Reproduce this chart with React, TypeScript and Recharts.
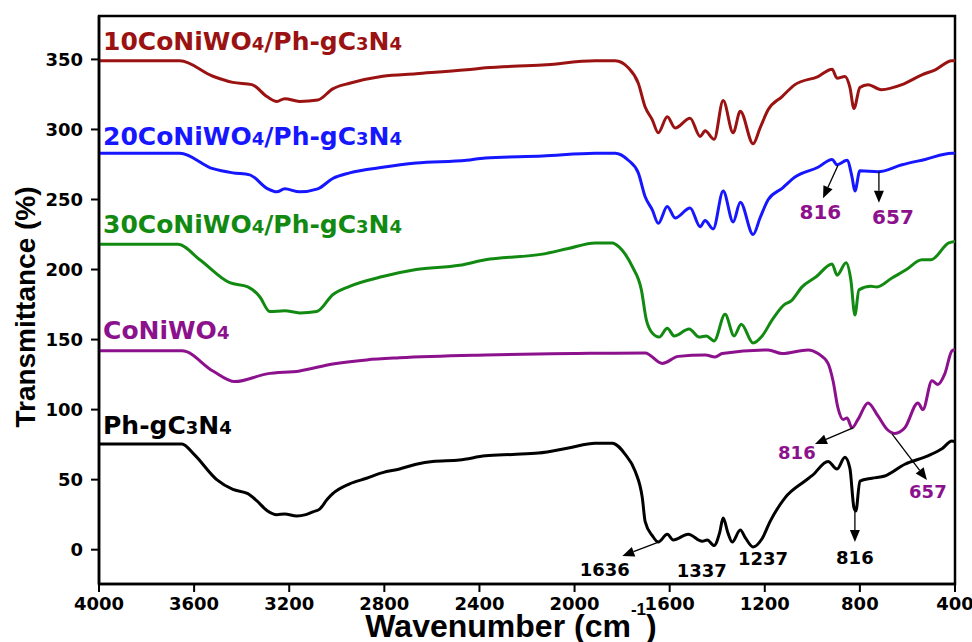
import { LineChart, Line, XAxis, YAxis, ReferenceArea, ReferenceLine, ReferenceDot, Label } from "recharts"

// wavenumber (cm-1) and transmittance (%), each curve is offset
const phWn = [4000, 3800, 3651, 3600, 3505, 3437, 3374, 3337, 3294, 3252, 3219, 3169, 3130, 3100, 3072, 3040, 3017, 2946, 2875, 2807, 2736, 2666, 2597, 2484, 2375, 2260, 2152, 2026, 1913, 1841, 1787, 1745, 1715, 1703, 1673, 1648, 1610, 1585, 1522, 1463, 1442, 1413, 1390, 1375, 1355, 1337, 1303, 1280, 1249, 1211, 1178, 1115, 1031, 1000, 934, 896, 863, 842, 825, 817, 800, 749, 695, 611, 514, 455, 413, 400]
const phT = [75.5, 75.5, 75.5, 68, 50, 43, 40, 35, 28, 25, 25.5, 24, 25, 27, 29, 36, 40, 47, 51, 55, 57.6, 61, 63, 64, 67, 68, 69, 72.6, 76, 76, 68, 56, 37, 20, 10, 5.5, 11, 7, 11, 6, 7, 3, 12, 22.6, 12, 5.5, 14, 8, 2, 8, 20, 37, 49, 53, 63, 57.6, 66, 58, 30, 27.6, 49, 51, 52.6, 61, 67, 72, 77.6, 77]

const cnWn = [4000, 3800, 3651, 3521, 3429, 3294, 3156, 3017, 2875, 2736, 2375, 2000, 1703, 1631, 1564, 1450, 1409, 1379, 1186, 1127, 1018, 976, 934, 913, 892, 871, 854, 833, 808, 766, 724, 686, 653, 611, 556, 535, 497, 472, 443, 413, 400]
const cnT = [142, 142, 142, 127.6, 120, 125.5, 127.6, 132.6, 135.5, 137, 139, 140, 140.5, 133, 138, 139, 137.6, 140, 142.6, 140, 142.6, 140, 133, 120.6, 101, 93, 94, 87, 93, 104.8, 95.5, 86, 83, 87, 104.8, 100, 120.6, 118, 125.5, 142, 143]

const c30Wn = [4000, 3800, 3668, 3576, 3450, 3374, 3324, 3282, 3219, 3156, 3084, 3017, 2946, 2807, 2666, 2484, 2375, 2135, 2026, 1913, 1841, 1812, 1787, 1757, 1719, 1698, 1677, 1644, 1610, 1581, 1518, 1476, 1446, 1413, 1367, 1329, 1299, 1249, 1211, 1169, 1119, 1089, 1043, 984, 917, 896, 858, 838, 821, 804, 754, 729, 665, 606, 539, 501, 426, 400]
const c30T = [218, 218, 218, 207, 190.6, 187.7, 180.6, 170, 170.6, 169, 170, 182, 188, 195, 200, 203, 207, 211, 215, 219, 219, 216, 211, 202, 185.5, 164, 155.5, 151.8, 158, 152.6, 157.6, 151.8, 152.6, 149, 168, 152.6, 161, 147.6, 152.6, 164, 174.8, 177.6, 187.6, 194.8, 204, 196, 204.8, 192.6, 167.6, 185.5, 188, 187.6, 194, 199.8, 207, 207, 219, 220]

const c20Wn = [4000, 3800, 3660, 3521, 3437, 3366, 3294, 3252, 3219, 3156, 3080, 3017, 2946, 2807, 2666, 2454, 2375, 2135, 1913, 1829, 1774, 1732, 1703, 1673, 1648, 1610, 1577, 1514, 1472, 1451, 1417, 1375, 1333, 1303, 1249, 1220, 1186, 1127, 1073, 976, 917, 896, 854, 833, 821, 800, 724, 623, 526, 413, 400]
const c20T = [283, 283, 283, 272, 269, 267.6, 258, 255.5, 257.6, 255.5, 257.6, 265, 269, 273, 276, 278, 279.7, 281, 283, 283, 278, 269, 252, 242.6, 233, 245, 236.8, 244, 230.6, 235, 229, 256, 234, 248, 225, 236.8, 249.8, 258, 266, 273, 278.6, 274.8, 278, 266, 256, 270.5, 269.8, 274.8, 278.6, 283, 283]

const c10Wn = [4000, 3800, 3660, 3521, 3437, 3357, 3294, 3252, 3219, 3156, 3080, 3017, 2946, 2807, 2666, 2454, 2375, 2135, 1913, 1829, 1774, 1732, 1703, 1673, 1648, 1610, 1577, 1514, 1472, 1451, 1413, 1375, 1333, 1303, 1249, 1220, 1186, 1127, 1073, 976, 917, 896, 863, 842, 825, 800, 766, 710, 623, 539, 483, 413, 400]
const c10T = [349, 349, 349, 338, 333.6, 332, 323.5, 320, 322, 320, 321, 329, 333, 338, 339.8, 342.6, 344, 346, 349, 349, 344, 333, 316, 306.9, 297.6, 309, 301, 308, 295, 299, 293, 320.6, 297.6, 313, 289.8, 301, 314, 323.5, 332, 337.8, 343, 336.6, 337.8, 330, 315, 330, 332, 328.4, 332, 339, 342.6, 349, 349]

const xTicks = [4000, 3600, 3200, 2800, 2400, 2000, 1600, 1200, 800, 400]
const yTicks = [0, 50, 100, 150, 200, 250, 300, 350]

const RED = "#9a1212"
const BLUE = "#1616ff"
const GREEN = "#128a12"
const PURPLE = "#8c118c"
const FONT = "'DejaVu Sans', sans-serif"
const ARIAL = "'Liberation Sans', Arial, sans-serif"

const toRows = (wn: number[], t: number[]) => wn.map((w, i) => ({ wn: w, t: t[i] }))

const series = [
  { key: "ph", data: toRows(phWn, phT), color: "#000" },
  { key: "cn", data: toRows(cnWn, cnT), color: PURPLE },
  { key: "c30", data: toRows(c30Wn, c30T), color: GREEN },
  { key: "c20", data: toRows(c20Wn, c20T), color: BLUE },
  { key: "c10", data: toRows(c10Wn, c10T), color: RED },
]

// curve names: odd parts are the small digits
const names = [
  { parts: ["10CoNiWO", "4", "/Ph-gC", "3", "N", "4"], wn: 3983, t: 357, color: RED },
  { parts: ["20CoNiWO", "4", "/Ph-gC", "3", "N", "4"], wn: 3983, t: 289, color: BLUE },
  { parts: ["30CoNiWO", "4", "/Ph-gC", "3", "N", "4"], wn: 3983, t: 226, color: GREEN },
  { parts: ["CoNiWO", "4"], wn: 3983, t: 150.5, color: PURPLE },
  { parts: ["Ph-gC", "3", "N", "4"], wn: 3983, t: 82.6, color: "#000" },
]

const peakLabels = [
  { text: "816", wn: 966, t: 241, color: PURPLE, size: 20 },
  { text: "657", wn: 661, t: 237.6, color: PURPLE, size: 20 },
  { text: "816", wn: 1065, t: 69.3, color: PURPLE, size: 18 },
  { text: "657", wn: 514, t: 41.4, color: PURPLE, size: 18 },
  { text: "1636", wn: 1873, t: -13.8, color: "#000", size: 18 },
  { text: "1337", wn: 1465, t: -15.2, color: "#000", size: 18 },
  { text: "1237", wn: 1207, t: -6.2, color: "#000", size: 18 },
  { text: "816", wn: 821, t: -5.4, color: "#000", size: 18 },
]

const arrows = [
  { from: [892, 274.5], to: [955, 250.9] },
  { from: [720, 269.8], to: [720, 247.6] },
  { from: [829, 86.9], to: [989, 75.5] },
  { from: [665, 82.6], to: [518, 49.8] },
  { from: [1644, 5.5], to: [1799, -4.5] },
  { from: [821, 27.6], to: [821, 5.5] },
]

const Arrow = (p: any) => {
  const { x1, y1, x2, y2 } = p
  const dx = x2 - x1
  const dy = y2 - y1
  const len = Math.hypot(dx, dy) || 1
  const ux = dx / len
  const uy = dy / len
  const hl = 12
  const hw = 5
  const bx = x2 - ux * hl
  const by = y2 - uy * hl
  const pts = `${x2},${y2} ${bx - uy * hw},${by + ux * hw} ${bx + uy * hw},${by - ux * hw}`
  return (
    <g>
      <line x1={x1} y1={y1} x2={bx} y2={by} stroke="#000" strokeWidth={1.3} />
      <polygon points={pts} fill="#000" />
    </g>
  )
}

const nameShape = (parts: string[], color: string) => (p: any) => (
  <text x={p.cx} y={p.cy} fill={color} fontFamily={FONT} fontWeight="bold" fontSize={25}>
    {parts.map((s, i) => (
      <tspan key={i} fontSize={i % 2 ? 18 : 25}>{s}</tspan>
    ))}
  </text>
)

const peakShape = (text: string, color: string, size: number) => (p: any) => (
  <text x={p.cx} y={p.cy} fill={color} fontFamily={FONT} fontWeight="bold" fontSize={size} textAnchor="middle" dominantBaseline="central">
    {text}
  </text>
)

const XTitle = (p: any) => {
  const vb = p.viewBox
  return (
    <text x={vb.x + 412} y={vb.y + 53} textAnchor="middle" fontFamily={ARIAL} fontWeight="bold" fontSize={32} fill="#000">
      Wavenumber (cm<tspan dy={-22} fontSize={17}>-1</tspan><tspan dy={22}>)</tspan>
    </text>
  )
}

const YTitle = (p: any) => {
  const vb = p.viewBox
  const cx = vb.x + 25
  const cy = 307
  return (
    <text x={cx} y={cy} transform={`rotate(-90 ${cx} ${cy})`} textAnchor="middle" dominantBaseline="central"
      fontFamily={ARIAL} fontWeight="bold" fontSize={28} fill="#000">
      Transmittance (%)
    </text>
  )
}

const tickStyle = { fontFamily: FONT, fontWeight: "bold", fontSize: 18, fill: "#000" }

export default function App() {
  return (
    <div style={{ position: "absolute", left: 0, top: 0, background: "#fff" }}>
      <LineChart width={972} height={642} margin={{ top: 16, right: 17, bottom: 0, left: 0 }}>
        <XAxis
          dataKey="wn"
          type="number"
          domain={[400, 4000]}
          reversed
          ticks={xTicks}
          interval={0}
          allowDataOverflow
          height={58}
          tick={tickStyle}
          tickSize={8}
          tickMargin={5}
          axisLine={{ stroke: "#000", strokeWidth: 2.5 }}
          tickLine={{ stroke: "#000", strokeWidth: 2 }}
        >
          <Label content={XTitle} />
        </XAxis>
        <YAxis
          dataKey="t"
          type="number"
          domain={[-24.5, 381]}
          ticks={yTicks}
          interval={0}
          allowDataOverflow
          width={99}
          tick={tickStyle}
          tickSize={8}
          tickMargin={8}
          axisLine={{ stroke: "#000", strokeWidth: 2.5 }}
          tickLine={{ stroke: "#000", strokeWidth: 2 }}
        >
          <Label content={YTitle} />
        </YAxis>
        <ReferenceArea x1={4000} x2={400} y1={-24.5} y2={381} fill="none" stroke="#000" strokeWidth={2.5} ifOverflow="visible" />
        {series.map((s) => (
          <Line
            key={s.key}
            data={s.data}
            dataKey="t"
            type="monotone"
            stroke={s.color}
            strokeWidth={3}
            dot={false}
            activeDot={false}
            isAnimationActive={false}
          />
        ))}
        {arrows.map((a, i) => (
          <ReferenceLine
            key={"a" + i}
            segment={[{ x: a.from[0], y: a.from[1] }, { x: a.to[0], y: a.to[1] }]}
            shape={Arrow}
            ifOverflow="visible"
          />
        ))}
        {names.map((n, i) => (
          <ReferenceDot key={"n" + i} x={n.wn} y={n.t} r={0} shape={nameShape(n.parts, n.color)} ifOverflow="visible" />
        ))}
        {peakLabels.map((l, i) => (
          <ReferenceDot key={"p" + i} x={l.wn} y={l.t} r={0} shape={peakShape(l.text, l.color, l.size)} ifOverflow="visible" />
        ))}
      </LineChart>
    </div>
  )
}
